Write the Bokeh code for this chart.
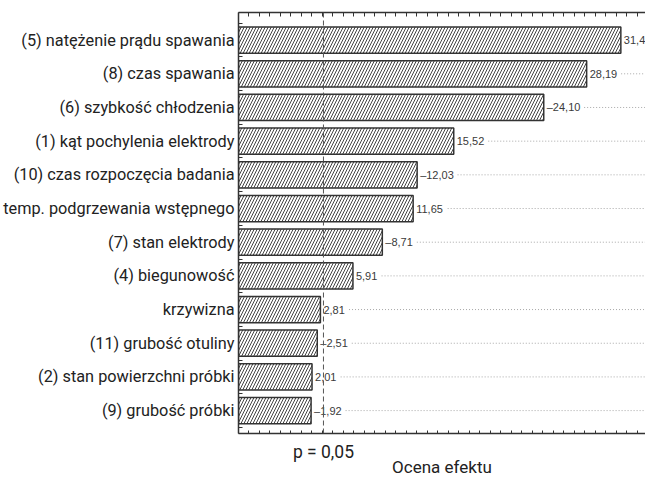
from bokeh.plotting import figure
from bokeh.models import Range1d, LinearAxis, FixedTicker, Span, ColumnDataSource
from bokeh.core.properties import value
from bokeh.embed import file_html
from bokeh.resources import INLINE

# ---- data ----
factors = [
    "(5) natężenie prądu spawania",
    "(8) czas spawania",
    "(6) szybkość chłodzenia",
    "(1) kąt pochylenia elektrody",
    "(10) czas rozpoczęcia badania",
    "temp. podgrzewania wstępnego",
    "(7) stan elektrody",
    "(4) biegunowość",
    "krzywizna",
    "(11) grubość otuliny",
    "(2) stan powierzchni próbki",
    "(9) grubość próbki",
]
effects = [31.45, 28.19, -24.10, 15.52, -12.03, 11.65, -8.71, 5.91, 2.81, -2.51, 2.01, -1.92]
p_crit = 3.1
p_label = "p = 0,05"
x_title = "Ocena efektu"

x_start, x_end = -5.0, 33.8
positions = list(range(1, len(factors) + 1))
abs_eff = [abs(v) for v in effects]
labels = [("–" if v < 0 else "") + f"{abs(v):.2f}".replace(".", ",") for v in effects]

W, H = 645, 479
left_b, right_b, top_b, bottom_b = 238, 0, 12, 0
px_per_unit = (W - left_b - right_b) / (x_end - x_start)
dot_start = [a + (3 + len(t) * 5.9 + 2) / px_per_unit for a, t in zip(abs_eff, labels)]
dot_end = [x_end] * len(factors)

src = ColumnDataSource(dict(y=positions, left=[x_start] * len(factors), right=abs_eff,
                            lab=labels, d0=dot_start, d1=dot_end))

p = figure(width=W, height=H, output_backend="svg", toolbar_location=None,
           x_range=Range1d(x_start, x_end), y_range=Range1d(len(factors) + 0.68, 0.18),
           min_border_left=left_b, min_border_right=right_b,
           min_border_top=top_b, min_border_bottom=bottom_b,
           x_axis_location=None, y_axis_location=None)
p.outline_line_color = None
p.xgrid.visible = False
p.ygrid.visible = False
p.background_fill_color = "white"

# dotted guide lines
p.segment(x0="d0", y0="y", x1="d1", y1="y", source=src, line_color="#a8a8a8",
          line_dash="1 2", line_width=1)

# bars
p.hbar(y="y", left="left", right="right", height=0.78, source=src,
       fill_color="white", line_color="#333333", line_width=1.5,
       hatch_pattern="/", hatch_color="#444444", hatch_scale=6, hatch_weight=1)

# value labels
p.text(x="right", y="y", text="lab", source=src, x_offset=3,
       text_baseline="middle", text_align="left", text_font_size="11px",
       text_color="#3a3a3a", text_font=value("Liberation Sans"))

# critical value line
p.add_layout(Span(location=p_crit, dimension="height", line_color="#555555",
                  line_dash="5 3", line_width=1))

int_ticks = list(range(int(x_start), int(x_end) + 1))

# left axis
yax = LinearAxis(ticker=FixedTicker(ticks=positions,
                                    minor_ticks=[i - 0.5 for i in positions] + [len(factors) + 0.5]),
                 major_label_overrides={i: f for i, f in zip(positions, factors)})
yax.major_tick_in = 0
yax.major_tick_out = 0
yax.minor_tick_in = 4
yax.minor_tick_out = 0
yax.minor_tick_line_color = "#333333"
yax.axis_line_color = "#333333"
yax.axis_line_width = 1.5
yax.major_label_standoff = 4
yax.major_label_text_font = "Roboto"
yax.major_label_text_font_size = "16.3px"
yax.major_label_text_color = "#222222"
p.add_layout(yax, "left")

# bottom axis
xax = LinearAxis(ticker=FixedTicker(ticks=[p_crit], minor_ticks=int_ticks),
                 major_label_overrides={p_crit: p_label})
xax.major_tick_in = 0
xax.major_tick_out = 0
xax.minor_tick_in = 3
xax.minor_tick_out = 0
xax.minor_tick_line_color = "#333333"
xax.axis_line_color = "#333333"
xax.axis_line_width = 1.5
xax.major_label_standoff = 8
xax.major_label_text_font = "Roboto"
xax.major_label_text_font_size = "17.5px"
xax.major_label_text_color = "#222222"
xax.axis_label = x_title
xax.axis_label_standoff = -8
xax.axis_label_text_font = "Roboto"
xax.axis_label_text_font_size = "17px"
xax.axis_label_text_font_style = "normal"
xax.axis_label_text_color = "#222222"
p.add_layout(xax, "below")

# top axis (frame top with ticks)
tax = LinearAxis(ticker=FixedTicker(ticks=int_ticks, minor_ticks=[]))
tax.major_tick_in = 4
tax.major_tick_out = 0
tax.major_tick_line_color = "#333333"
tax.axis_line_color = "#333333"
tax.axis_line_width = 1.5
tax.major_label_text_font_size = "0px"
tax.major_label_standoff = 0
p.add_layout(tax, "above")

open("out.html", "w").write(file_html(p, INLINE))
